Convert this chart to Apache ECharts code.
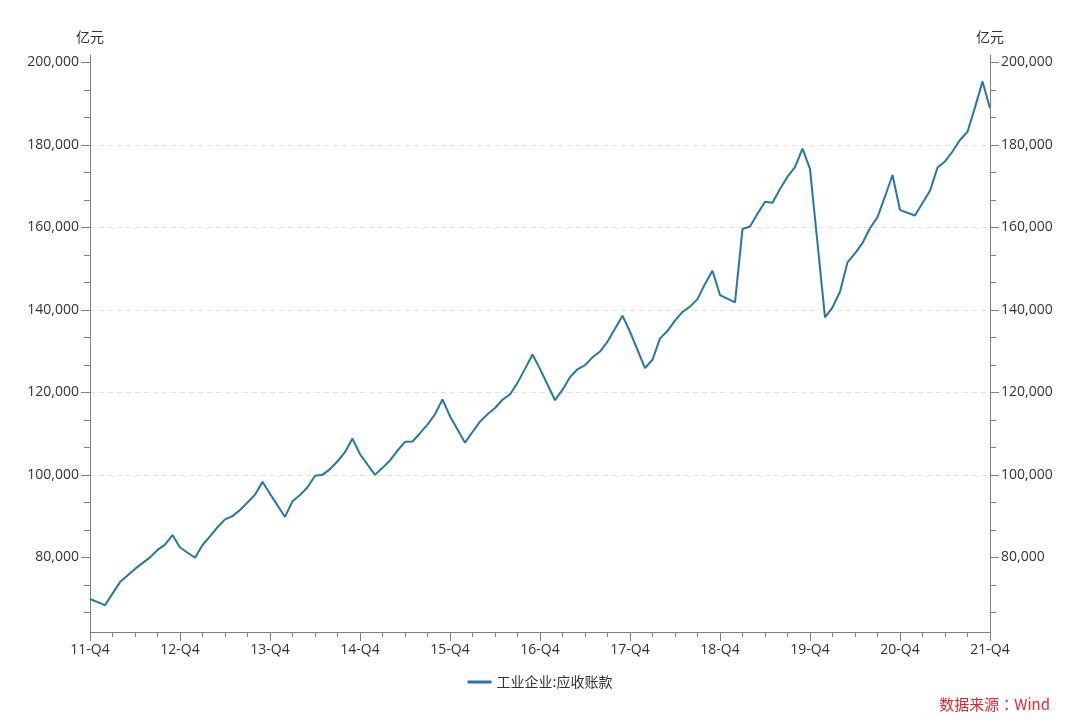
<!DOCTYPE html>
<html>
<head>
<meta charset="utf-8">
<script src="https://cdn.jsdelivr.net/npm/echarts@6/dist/echarts.min.js"></script>
<style>
html,body{margin:0;padding:0;background:#fff;}
#chart{width:1080px;height:722px;}
</style>
</head>
<body>
<div id="chart"></div>
<script>
// ---- data ----
const seriesName = "工业企业:应收账款";
const unitName = "亿元";
const sourceText = "数据来源：Wind";
const months = [
  "2011-12",
  "2012-02","2012-03","2012-04","2012-05","2012-06","2012-07","2012-08","2012-09","2012-10","2012-11","2012-12",
  "2013-02","2013-03","2013-04","2013-05","2013-06","2013-07","2013-08","2013-09","2013-10","2013-11","2013-12",
  "2014-02","2014-03","2014-04","2014-05","2014-06","2014-07","2014-08","2014-09","2014-10","2014-11","2014-12",
  "2015-02","2015-03","2015-04","2015-05","2015-06","2015-07","2015-08","2015-09","2015-10","2015-11","2015-12",
  "2016-02","2016-03","2016-04","2016-05","2016-06","2016-07","2016-08","2016-09","2016-10","2016-11","2016-12",
  "2017-02","2017-03","2017-04","2017-05","2017-06","2017-07","2017-08","2017-09","2017-10","2017-11","2017-12",
  "2018-02","2018-03","2018-04","2018-05","2018-06","2018-07","2018-08","2018-09","2018-10","2018-11","2018-12",
  "2019-02","2019-03","2019-04","2019-05","2019-06","2019-07","2019-08","2019-09","2019-10","2019-11","2019-12",
  "2020-02","2020-03","2020-04","2020-05","2020-06","2020-07","2020-08","2020-09","2020-10","2020-11","2020-12",
  "2021-02","2021-03","2021-04","2021-05","2021-06","2021-07","2021-08","2021-09","2021-10","2021-11","2021-12"
];
const receivables = [
  69900,
  68400,71200,74000,75600,77200,78600,80000,81800,83100,85400,82400,
  79900,83000,85100,87300,89200,90000,91500,93300,95200,98300,95400,
  89800,93600,95100,97000,99800,100000,101400,103300,105500,108800,105000,
  100000,101700,103500,105900,108000,108100,110100,112200,114700,118300,114200,
  107800,110400,112900,114700,116200,118200,119500,122300,125700,129200,125700,
  118100,120600,123700,125600,126600,128500,129900,132300,135400,138600,134700,
  125900,127900,133100,134900,137400,139500,140800,142600,146300,149500,143600,
  141800,159600,160200,163300,166200,166000,169300,172300,174600,179100,174200,
  138200,140600,144400,151500,153700,156200,159800,162500,167500,172700,164200,
  162900,165900,168900,174500,176000,178400,181200,183200,189100,195400,188900
];
const xTickYears = ["11","12","13","14","15","16","17","18","19","20","21"];
const yLabelValues = [80000,100000,120000,140000,160000,180000,200000];
const yMin = 61900, yMax = 201800;

// ---- build ----
const startYear = 2011, startMonth = 12;
function monthIndex(s){
  const p = s.split("-");
  return (parseInt(p[0]) - startYear) * 12 + (parseInt(p[1]) - startMonth);
}
const seriesData = months.map((m, i) => [monthIndex(m), receivables[i]]);
const xMax = (xTickYears.length - 1) * 12;

// small ticks: thirds of each 20,000 step
const step = yLabelValues[1] - yLabelValues[0];
const smallTicks = [];
for (let v = yLabelValues[0] - step; v <= yLabelValues[yLabelValues.length - 1]; v += step) {
  for (let k = 0; k < 3; k++) {
    const t = Math.round(v + k * step / 3);
    if (t >= yMin && t <= yMax) smallTicks.push(t);
  }
}

const axisColor = "#808080";
const textColor = "#333333";
const fontFamily = "'Open Sans', 'Noto Sans CJK SC', sans-serif";
const cjkFont = "'Noto Sans CJK SC', sans-serif";

function mainY(pos) {
  return {
    type: "value",
    position: pos,
    min: yMin, max: yMax,
    splitNumber: 7,
    name: unitName,
    nameLocation: "end",
    nameGap: 11,
    nameTextStyle: { color: textColor, fontSize: 14, fontFamily: cjkFont, align: "center" },
    axisLine: { show: true, lineStyle: { color: axisColor, width: 1 } },
    axisTick: { show: true, length: 9, customValues: yLabelValues, lineStyle: { color: axisColor } },
    axisLabel: {
      show: true, color: textColor, fontSize: 14, fontFamily: fontFamily, margin: 11,
      customValues: yLabelValues,
      formatter: v => v.toLocaleString("en-US")
    },
    splitLine: pos === "left" ? {
      show: true, showMinLine: false, showMaxLine: false,
      lineStyle: { color: "#e0e0e0", type: [5, 4], width: 1 }
    } : { show: false },
    minorTick: { show: false }
  };
}
function helperY(pos) {
  return {
    type: "value",
    position: pos,
    min: yMin, max: yMax,
    splitNumber: 7,
    axisLine: { show: false },
    axisTick: { show: true, length: 6, customValues: smallTicks, lineStyle: { color: axisColor } },
    axisLabel: { show: false },
    splitLine: { show: false }
  };
}

const chart = echarts.init(document.getElementById("chart"), null, { renderer: "canvas" });
chart.setOption({
  backgroundColor: "#ffffff",
  animation: false,
  textStyle: { fontFamily: fontFamily },
  grid: { left: 90, right: 90, top: 55, bottom: 90, containLabel: false },
  legend: {
    show: true,
    bottom: 28,
    left: "center",
    icon: "rect",
    itemWidth: 24,
    itemHeight: 3,
    itemGap: 8,
    textStyle: { color: textColor, fontSize: 14, fontFamily: cjkFont },
    data: [{ name: seriesName }]
  },
  xAxis: {
    type: "value",
    min: 0, max: xMax, interval: 12,
    axisLine: { show: true, onZero: false, lineStyle: { color: axisColor, width: 1 } },
    axisTick: { show: true, length: 9, lineStyle: { color: axisColor } },
    minorTick: { show: true, splitNumber: 4, length: 5, lineStyle: { color: axisColor } },
    splitLine: { show: false },
    axisLabel: {
      color: textColor, fontSize: 14, fontFamily: fontFamily, margin: 11,
      formatter: v => xTickYears[Math.round(v / 12)] + "-Q4"
    }
  },
  yAxis: [mainY("left"), mainY("right"), helperY("left"), helperY("right")],
  series: [{
    name: seriesName,
    type: "line",
    xAxisIndex: 0,
    yAxisIndex: 0,
    data: seriesData,
    symbol: "none",
    showSymbol: false,
    lineStyle: { color: "#2677a5", width: 2 },
    itemStyle: { color: "#2677a5" }
  }],
  graphic: [{
    type: "text",
    right: 30,
    bottom: 10,
    style: { text: sourceText, fill: "#e8262d", fontSize: 15, fontFamily: "'Noto Sans CJK TC', 'Noto Sans CJK SC', sans-serif" }
  }]
});
</script>
</body>
</html>
